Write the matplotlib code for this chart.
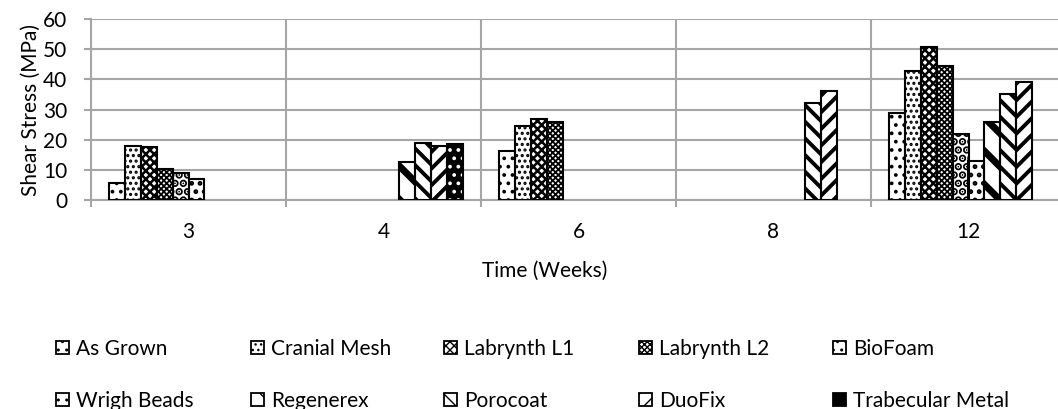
import matplotlib
matplotlib.use("Agg")
import matplotlib.pyplot as plt
from matplotlib.patches import Patch
import numpy as np

plt.rcParams['font.family'] = ['Lato', 'DejaVu Sans']

weeks = ['3', '4', '6', '8', '12']
series = ['As Grown', 'Cranial Mesh', 'Labrynth L1', 'Labrynth L2', 'BioFoam',
          'Wrigh Beads', 'Regenerex', 'Porocoat', 'DuoFix', 'Trabecular Metal']

as_grown     = [5.6, 0, 16.1, 0, 29.0]
cranial_mesh = [18.0, 0, 24.5, 0, 42.7]
labrynth_l1  = [17.7, 0, 26.8, 0, 50.7]
labrynth_l2  = [10.3, 0, 25.9, 0, 44.3]
biofoam      = [8.8, 0, 0, 0, 21.9]
wrigh_beads  = [7.0, 0, 0, 0, 12.9]
regenerex    = [0, 12.6, 0, 0, 25.8]
porocoat     = [0, 19.0, 0, 32.0, 35.0]
duofix       = [0, 18.0, 0, 36.1, 39.1]
trabecular   = [0, 18.6, 0, 0, 0]

values = [as_grown, cranial_mesh, labrynth_l1, labrynth_l2, biofoam,
          wrigh_beads, regenerex, porocoat, duofix, trabecular]

# (facecolor, hatch, hatch colour, hatch linewidth)
styles = [
    ('white', '..', 'black', 1.5),
    ('white', '...', 'black', 1.5),
    ('white', 'xxxx', 'black', 1.8),
    ('white', 'xxxxxx', 'black', 1.3),
    ('white', '..', 'black', 4.0),
    ('white', '..', 'black', 2.2),
    ('white', '\\', 'black', 5.0),
    ('white', '\\\\', 'black', 2.8),
    ('white', '//', 'black', 2.8),
    ('black', '..', 'white', 1.5),
]

W, H = 1058, 409
fig = plt.figure(figsize=(W / 100, H / 100), dpi=100)
ax = fig.add_axes([91 / W, 209 / H, 975 / W, 181 / H])

x = np.arange(len(weeks))
bw = 0.082
grid_c = '#a6a6a6'
fs = 15

for i, (name, vals) in enumerate(zip(series, values)):
    fc, hatch, hc, hlw = styles[i]
    pos = x - 0.41 + bw * (i + 0.5)
    vals = np.array(vals, dtype=float)
    m = vals > 0
    with plt.rc_context({'hatch.linewidth': hlw}):
        ax.bar(pos[m], vals[m], bw, color=fc, edgecolor=hc, hatch=hatch,
               linewidth=0, zorder=3)
    ax.bar(pos[m], vals[m], bw, fill=False, edgecolor='black',
           linewidth=1.5, zorder=4)

ax.set_xlim(-0.5, 4.5)
ax.set_ylim(0, 60)
ax.set_yticks(range(0, 61, 10))
ax.set_xticks(x)
ax.set_xticklabels(weeks)
ax.set_xticks(np.arange(-0.5, 5, 1), minor=True)
ax.grid(axis='y', color=grid_c, linewidth=1.5, zorder=0)
ax.grid(axis='x', which='minor', color=grid_c, linewidth=1.5, zorder=0)
ax.tick_params(axis='x', which='major', length=0, pad=16, labelsize=fs)
ax.tick_params(axis='x', which='minor', length=5, width=1.5, color=grid_c)
ax.tick_params(axis='y', length=5, width=1.5, color=grid_c, labelsize=fs, pad=12)
for s in ['top', 'right']:
    ax.spines[s].set_visible(False)
for s in ['left', 'bottom']:
    ax.spines[s].set_color(grid_c)
    ax.spines[s].set_linewidth(1.5)
ax.set_axisbelow(True)

ax.set_ylabel('Shear Stress (MPa)', fontsize=fs, labelpad=2)
fig.text(545 / W, 1 - 271 / H, 'Time (Weeks)', ha='center', va='center', fontsize=fs)

col_x = [56, 251, 444, 639, 833]
row_y = [349, 401]
for i, name in enumerate(series):
    fc, hatch, hc, hlw = styles[i]
    with plt.rc_context({'hatch.linewidth': hlw * 1.3}):
        h = Patch(facecolor=fc, edgecolor='black', hatch=hatch,
                  linewidth=1.3)
    r, c = divmod(i, 5)
    fig.legend(handles=[h], labels=[name], loc='center left',
               bbox_to_anchor=(col_x[c] / W, 1 - row_y[r] / H),
               frameon=False, fontsize=fs, handlelength=0.6, handleheight=0.6,
               handletextpad=0.35, borderpad=0, borderaxespad=0)

fig.savefig('out.png', dpi=100)
